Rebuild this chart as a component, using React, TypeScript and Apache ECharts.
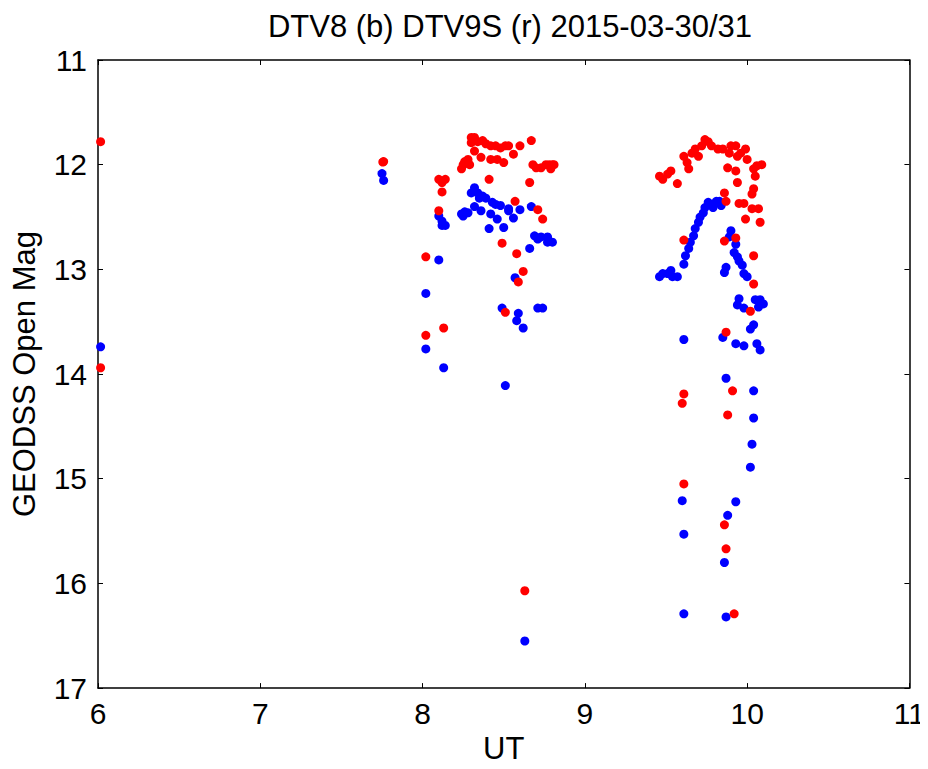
import React, { useEffect, useRef } from "react";
import * as echarts from "echarts";

const title = "DTV8 (b) DTV9S (r) 2015-03-30/31";
const xTicks = [6, 7, 8, 9, 10, 11];
const yTicks = [11, 12, 13, 14, 15, 16, 17];

// DTV8 (blue): [UT, magnitude]
const blueData: [number, number][] = [
  [6.016, 13.74],
  [7.75, 12.085], [7.76, 12.15],
  [8.10, 12.49], [8.12, 12.54], [8.12, 12.58], [8.14, 12.58],
  [8.10, 12.91], [8.02, 13.23], [8.02, 13.76], [8.13, 13.94], [8.51, 14.11],
  [8.32, 12.22], [8.30, 12.27], [8.34, 12.27], [8.35, 12.32], [8.37, 12.30],
  [8.39, 12.32], [8.43, 12.36], [8.45, 12.38], [8.48, 12.39], [8.32, 12.40],
  [8.24, 12.47], [8.26, 12.45], [8.28, 12.46], [8.25, 12.49], [8.36, 12.44],
  [8.42, 12.47], [8.46, 12.52], [8.41, 12.61], [8.50, 12.60], [8.53, 12.44],
  [8.56, 12.51], [8.60, 12.43], [8.67, 12.40], [8.53, 12.42],
  [8.69, 12.68], [8.71, 12.71], [8.73, 12.69], [8.77, 12.69], [8.77, 12.74],
  [8.80, 12.74], [8.66, 12.80], [8.57, 13.08], [8.49, 13.37], [8.59, 13.42],
  [8.58, 13.49], [8.62, 13.56], [8.71, 13.37], [8.74, 13.37], [8.63, 16.55],
  [9.46, 13.07], [9.48, 13.04], [9.51, 13.04], [9.53, 13.01], [9.54, 13.07],
  [9.57, 13.07],
  [9.61, 12.95], [9.62, 12.87], [9.64, 12.80], [9.65, 12.74], [9.67, 12.68],
  [9.68, 12.61], [9.70, 12.55], [9.71, 12.50], [9.73, 12.46], [9.74, 12.41],
  [9.76, 12.36], [9.78, 12.38], [9.79, 12.41], [9.81, 12.35], [9.83, 12.35],
  [9.84, 12.39],
  [9.90, 12.63], [9.89, 12.69], [9.93, 12.76], [9.92, 12.84], [9.94, 12.88],
  [9.95, 12.92], [9.97, 12.96], [9.98, 13.04], [10.00, 13.07], [9.87, 12.98],
  [9.86, 13.03],
  [9.95, 13.28], [9.94, 13.34], [9.98, 13.37], [10.05, 13.29], [10.08, 13.29],
  [10.10, 13.33], [10.07, 13.36], [10.04, 13.53], [10.02, 13.57],
  [9.61, 13.67], [9.85, 13.65], [9.93, 13.71], [9.98, 13.73], [10.06, 13.71],
  [10.08, 13.77],
  [9.87, 14.04], [10.04, 14.16], [10.04, 14.42], [10.03, 14.67], [10.02, 14.89],
  [9.60, 15.21], [9.93, 15.22], [9.88, 15.35], [9.61, 15.53], [9.86, 15.80],
  [9.61, 16.29], [9.87, 16.32],
];

// DTV9S (red): [UT, magnitude]
const redData: [number, number][] = [
  [6.016, 11.78], [6.016, 13.94],
  [7.755, 11.975], [7.76, 11.97],
  [8.10, 12.14], [8.14, 12.14], [8.12, 12.17], [8.12, 12.26], [8.10, 12.44],
  [8.02, 12.88], [8.13, 13.56], [8.02, 13.63],
  [8.30, 11.74], [8.32, 11.74], [8.30, 11.79], [8.34, 11.78], [8.37, 11.77],
  [8.39, 11.80], [8.42, 11.82], [8.45, 11.82], [8.48, 11.84], [8.51, 11.82],
  [8.53, 11.82], [8.60, 11.82], [8.67, 11.77], [8.32, 11.87], [8.36, 11.93],
  [8.42, 11.95], [8.46, 11.95], [8.50, 11.98], [8.56, 11.90],
  [8.24, 12.04], [8.25, 12.00], [8.26, 11.97], [8.28, 11.95], [8.29, 12.00],
  [8.41, 12.14], [8.66, 12.17],
  [8.68, 12.00], [8.70, 12.03], [8.73, 12.03], [8.76, 12.00], [8.78, 12.00],
  [8.80, 12.00], [8.79, 12.04], [8.81, 12.00],
  [8.57, 12.35], [8.71, 12.43], [8.74, 12.52], [8.49, 12.75], [8.58, 12.85],
  [8.62, 13.02], [8.59, 13.12], [8.51, 13.41], [8.63, 16.07],
  [9.46, 12.11], [9.48, 12.14], [9.51, 12.09], [9.53, 12.06], [9.57, 12.18],
  [9.61, 11.92], [9.63, 11.98], [9.64, 12.04], [9.66, 11.89], [9.68, 11.85],
  [9.70, 11.92], [9.72, 11.82], [9.74, 11.76], [9.76, 11.78], [9.78, 11.82],
  [9.82, 11.85], [9.85, 11.85], [9.89, 11.89], [9.90, 11.82], [9.93, 11.82],
  [9.94, 11.92], [9.96, 11.89], [9.99, 11.85], [10.00, 11.95],
  [9.88, 12.03], [9.93, 12.06], [9.94, 12.17], [10.04, 12.04], [10.06, 12.01],
  [10.09, 12.00], [10.05, 12.11], [10.04, 12.23], [10.03, 12.28],
  [9.86, 12.27], [9.87, 12.35], [9.95, 12.37], [9.98, 12.37], [10.03, 12.42],
  [10.07, 12.42], [9.99, 12.52], [10.08, 12.55],
  [9.61, 12.72], [9.86, 12.73], [9.93, 12.70], [10.04, 12.87], [10.04, 13.14],
  [10.02, 13.40], [9.87, 13.60],
  [9.91, 14.16], [9.61, 14.19], [9.60, 14.28], [9.88, 14.39], [9.61, 15.05],
  [9.86, 15.44], [9.87, 15.67], [9.92, 16.29],
];

const FONT = "Arimo, 'Liberation Sans', Arial, sans-serif";
const FS_TITLE = 31;
const FS_LABEL = 30;
const FS_NAME = 31;

export default function App() {
  const ref = useRef<HTMLDivElement>(null);
  useEffect(() => {
    if (!ref.current) return;
    const chart = echarts.init(ref.current, undefined, { renderer: "svg" });
    const axisLine = { show: true, onZero: false, lineStyle: { color: "#000", width: 1.5 } };
    const tick = { show: true, inside: true, length: 5, lineStyle: { color: "#000", width: 1 } };
    chart.setOption({
      animation: false,
      backgroundColor: "#fff",
      textStyle: { fontFamily: FONT },
      title: {
        text: title,
        left: 505,
        textAlign: "center",
        top: 6,
        textStyle: { fontFamily: FONT, fontSize: FS_TITLE, fontWeight: "normal", color: "#000" },
      },
      grid: { left: 98, right: 15, top: 60, bottom: 77, containLabel: false },
      xAxis: [
        {
          type: "value",
          min: xTicks[0],
          max: xTicks[xTicks.length - 1],
          interval: 1,
          name: "UT",
          nameLocation: "middle",
          nameGap: 37,
          nameTextStyle: { fontFamily: FONT, fontSize: FS_NAME, color: "#000" },
          axisLine,
          axisTick: tick,
          axisLabel: { color: "#000", fontSize: FS_LABEL, fontFamily: FONT, margin: 10 },
          splitLine: { show: false },
        },
        {
          type: "value",
          position: "top",
          min: xTicks[0],
          max: xTicks[xTicks.length - 1],
          interval: 1,
          axisLine,
          axisTick: tick,
          axisLabel: { show: false },
          splitLine: { show: false },
        },
      ],
      yAxis: [
        {
          type: "value",
          inverse: true,
          min: yTicks[0],
          max: yTicks[yTicks.length - 1],
          interval: 1,
          name: "GEODSS Open Mag",
          nameLocation: "middle",
          nameGap: 58,
          nameRotate: 90,
          nameTextStyle: { fontFamily: FONT, fontSize: FS_NAME, color: "#000" },
          axisLine,
          axisTick: tick,
          axisLabel: { color: "#000", fontSize: FS_LABEL, fontFamily: FONT, margin: 11 },
          splitLine: { show: false },
        },
        {
          type: "value",
          position: "right",
          inverse: true,
          min: yTicks[0],
          max: yTicks[yTicks.length - 1],
          interval: 1,
          axisLine,
          axisTick: tick,
          axisLabel: { show: false },
          splitLine: { show: false },
        },
      ],
      series: [
        {
          type: "scatter",
          name: "DTV8",
          data: blueData,
          symbol: "circle",
          symbolSize: 9,
          itemStyle: { color: "#0000ff", opacity: 1 },
        },
        {
          type: "scatter",
          name: "DTV9S",
          data: redData,
          symbol: "circle",
          symbolSize: 9,
          itemStyle: { color: "#ff0000", opacity: 1 },
        },
      ],
    });
    return () => chart.dispose();
  }, []);
  return <div ref={ref} style={{ width: 928, height: 769, margin: -8 }} />;
}
